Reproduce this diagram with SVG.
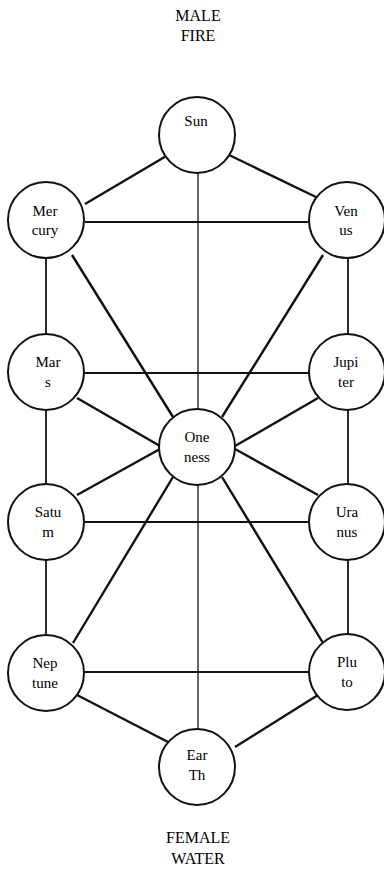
<svg xmlns="http://www.w3.org/2000/svg" width="384" height="869" viewBox="0 0 384 869">
<style>
.bg{fill:#ffffff}
.node circle{fill:#ffffff;stroke:#111;stroke-width:2}
.node text,.title{font-family:"Liberation Serif","Times New Roman",serif;font-size:15px;fill:#000;text-anchor:middle}
.title{font-size:16px}
.edges line{stroke:#111;stroke-width:2.4;stroke-linecap:butt}
.edges line.thin{stroke-width:1.3}
.edges line.mid{stroke-width:1.8}
</style>
<rect class="bg" x="0" y="0" width="384" height="869"/>
<g id="top-label"><text class="title" x="198" y="21">MALE</text><text class="title" x="198" y="41">FIRE</text></g>
<g id="bottom-label"><text class="title" x="198" y="843">FEMALE</text><text class="title" x="198" y="864">WATER</text></g>
<g class="edges" id="connectors">
<line x1="168" y1="155" x2="85" y2="204"/>
<line x1="227" y1="154" x2="318" y2="198"/>
<line class="mid" x1="85" y1="222" x2="309" y2="222"/>
<line class="thin" x1="198" y1="172" x2="198" y2="409"/>
<line class="thin" x1="198" y1="485" x2="198" y2="729"/>
<line class="mid" x1="46" y1="258" x2="46" y2="334"/>
<line class="mid" x1="348" y1="258" x2="348" y2="334"/>
<line x1="72" y1="255" x2="173" y2="417"/>
<line x1="323" y1="255" x2="222" y2="417"/>
<line class="mid" x1="84" y1="373" x2="309" y2="373"/>
<line x1="77" y1="398" x2="160" y2="446"/>
<line x1="318" y1="398" x2="235" y2="446"/>
<line class="mid" x1="46" y1="410" x2="46" y2="484"/>
<line class="mid" x1="348" y1="410" x2="348" y2="484"/>
<line x1="160" y1="449" x2="77" y2="495"/>
<line x1="235" y1="449" x2="318" y2="495"/>
<line class="mid" x1="85" y1="522" x2="309" y2="522"/>
<line class="mid" x1="46" y1="560" x2="46" y2="635"/>
<line class="mid" x1="348" y1="560" x2="348" y2="634"/>
<line x1="173" y1="477" x2="73" y2="643"/>
<line x1="222" y1="477" x2="323" y2="643"/>
<line class="mid" x1="85" y1="672" x2="309" y2="672"/>
<line x1="77" y1="695" x2="168" y2="742"/>
<line x1="318" y1="695" x2="235" y2="747"/>
</g>
<g class="node" id="sun"><circle cx="197" cy="135" r="38"/><text x="196" y="126">Sun</text></g>
<g class="node" id="mercury"><circle cx="46" cy="220" r="38"/><text x="45" y="216">Mer</text><text x="45" y="235">cury</text></g>
<g class="node" id="venus"><circle cx="347" cy="220" r="38"/><text x="346" y="216">Ven</text><text x="346" y="235">us</text></g>
<g class="node" id="mars"><circle cx="46" cy="372" r="38"/><text x="48" y="367">Mar</text><text x="48" y="387">s</text></g>
<g class="node" id="jupiter"><circle cx="347" cy="372" r="38"/><text x="346" y="367">Jupi</text><text x="346" y="387">ter</text></g>
<g class="node" id="oneness"><circle cx="197" cy="447" r="38"/><text x="197" y="442">One</text><text x="197" y="462">ness</text></g>
<g class="node" id="saturn"><circle cx="46" cy="522" r="38"/><text x="48" y="517">Satu</text><text x="48" y="537">m</text></g>
<g class="node" id="uranus"><circle cx="347" cy="522" r="38"/><text x="347" y="517">Ura</text><text x="347" y="537">nus</text></g>
<g class="node" id="neptune"><circle cx="46" cy="673" r="38"/><text x="45" y="668">Nep</text><text x="45" y="688">tune</text></g>
<g class="node" id="pluto"><circle cx="347" cy="672" r="38"/><text x="347" y="667">Plu</text><text x="347" y="687">to</text></g>
<g class="node" id="earth"><circle cx="197" cy="767" r="38"/><text x="197" y="760">Ear</text><text x="197" y="780">Th</text></g>
</svg>
